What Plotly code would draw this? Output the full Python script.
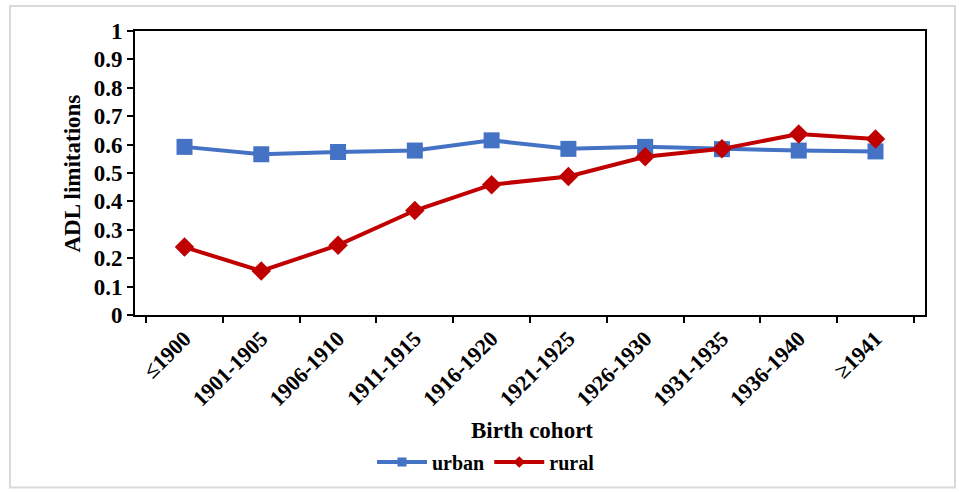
import plotly.graph_objects as go

cohorts = ["≤1900", "1901-1905", "1906-1910", "1911-1915", "1916-1920",
           "1921-1925", "1926-1930", "1931-1935", "1936-1940", "≥1941"]
urban = [0.592, 0.566, 0.574, 0.579, 0.615, 0.585, 0.592, 0.584, 0.579, 0.576]
rural = [0.239, 0.155, 0.246, 0.368, 0.459, 0.488, 0.557, 0.585, 0.637, 0.620]
y_ticks = [0, 0.1, 0.2, 0.3, 0.4, 0.5, 0.6, 0.7, 0.8, 0.9, 1]

W, H = 959, 492
L, R, T, B = 135, 925, 31, 316

font_family = "Liberation Serif, Times New Roman, serif"

series = [
    ("urban", urban, "#4472C4", "square", 16, 9),
    ("rural", rural, "#C00000", "diamond", 15, 9),
]

fig = go.Figure()
for name, vals, color, symbol, size, legend_size in series:
    fig.add_trace(go.Scatter(
        x=cohorts, y=vals, name=name, mode="lines+markers",
        line=dict(color=color, width=4),
        marker=dict(symbol=symbol, size=size, color=color),
        showlegend=False,
    ))
    # legend entry with a smaller marker
    fig.add_trace(go.Scatter(
        x=[None], y=[None], name=name, mode="lines+markers",
        line=dict(color=color, width=4),
        marker=dict(symbol=symbol, size=legend_size, color=color),
        showlegend=True,
    ))


def px_x(p):
    return (p - L) / (R - L)


def px_y(p):
    return (B - p) / (B - T)


fig.update_layout(
    width=W, height=H,
    margin=dict(l=L, r=W - R, t=T, b=H - B),
    paper_bgcolor="white", plot_bgcolor="white",
    font=dict(family=font_family, color="black"),
    showlegend=True,
    legend=dict(
        orientation="h", x=px_x(486), y=px_y(462),
        xanchor="center", yanchor="middle",
        font=dict(size=20, family=font_family, color="black", weight="bold"),
        itemwidth=50, tracegroupgap=0,
    ),
    xaxis=dict(
        type="category", tickson="boundaries", ticks="outside", ticklen=6,
        tickwidth=2, tickcolor="black", tickangle=-45,
        showline=True, linecolor="black", linewidth=2, mirror=True,
        showgrid=False, zeroline=False,
        tickfont=dict(size=22, family=font_family, color="black", weight="bold"),
    ),
    yaxis=dict(
        range=[0, 1], tickvals=y_ticks, ticks="outside", ticklen=6,
        tickwidth=2, tickcolor="black",
        showline=True, linecolor="black", linewidth=2, mirror=True,
        showgrid=False, zeroline=False,
        tickfont=dict(size=23, family=font_family, color="black", weight="bold"),
    ),
    annotations=[
        dict(text="ADL limitations", textangle=-90, xref="paper", yref="paper",
             x=px_x(72), y=px_y(174), xanchor="center", yanchor="middle",
             showarrow=False,
             font=dict(size=23, family=font_family, color="black", weight="bold")),
        dict(text="Birth cohort", xref="paper", yref="paper",
             x=px_x(532), y=px_y(432), xanchor="center", yanchor="middle",
             showarrow=False,
             font=dict(size=23, family=font_family, color="black", weight="bold")),
    ],
    shapes=[
        dict(type="rect", xref="paper", yref="paper",
             x0=px_x(10), x1=px_x(955), y0=px_y(489), y1=px_y(6),
             line=dict(color="#d9d9d9", width=2), fillcolor="rgba(0,0,0,0)",
             layer="below"),
    ],
)

fig.write_html("out.html")
